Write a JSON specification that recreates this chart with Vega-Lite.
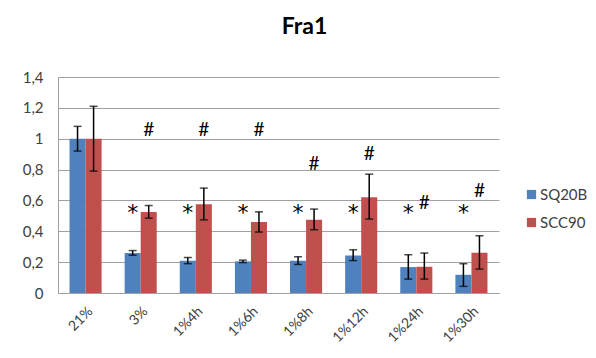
{
  "$schema": "https://vega.github.io/schema/vega-lite/v6.json",
  "width": 441,
  "height": 216,
  "autosize": {"type": "none"},
  "padding": {"left": 58, "top": 77, "right": 97, "bottom": 65},
  "background": "white",
  "config": {
    "locale": {"number": {"decimal": ",", "thousands": ".", "grouping": [3], "currency": ["", " €"]}},
    "view": {"stroke": null},
    "font": "Lato",
    "axisY": {"title": null, "format": ".1~f", "labelFontSize": 15, "labelColor": "#404040", "labelPadding": 15, "labelOverlap": false, "ticks": false, "grid": true, "gridColor": "#A0A0A0", "domainColor": "#A0A0A0", "labelFont": "Lato", "tickCount": 7}
  },
  "title": {"text": "Fra1", "fontSize": 23, "fontWeight": "bold", "font": "Lato", "color": "#000000", "dx": 26, "offset": 31, "anchor": "middle"},
  "datasets": {
    "bars": [
      {"cat": "21%", "series": "SQ20B", "value": 1.0, "lo": 0.92, "hi": 1.08},
      {"cat": "21%", "series": "SCC90", "value": 1.0, "lo": 0.79, "hi": 1.21},
      {"cat": "3%", "series": "SQ20B", "value": 0.259, "lo": 0.245, "hi": 0.275},
      {"cat": "3%", "series": "SCC90", "value": 0.525, "lo": 0.485, "hi": 0.567},
      {"cat": "1%4h", "series": "SQ20B", "value": 0.209, "lo": 0.19, "hi": 0.23},
      {"cat": "1%4h", "series": "SCC90", "value": 0.575, "lo": 0.474, "hi": 0.68},
      {"cat": "1%6h", "series": "SQ20B", "value": 0.205, "lo": 0.197, "hi": 0.213},
      {"cat": "1%6h", "series": "SCC90", "value": 0.46, "lo": 0.395, "hi": 0.526},
      {"cat": "1%8h", "series": "SQ20B", "value": 0.209, "lo": 0.185, "hi": 0.235},
      {"cat": "1%8h", "series": "SCC90", "value": 0.475, "lo": 0.41, "hi": 0.544},
      {"cat": "1%12h", "series": "SQ20B", "value": 0.243, "lo": 0.21, "hi": 0.28},
      {"cat": "1%12h", "series": "SCC90", "value": 0.62, "lo": 0.479, "hi": 0.77},
      {"cat": "1%24h", "series": "SQ20B", "value": 0.168, "lo": 0.09, "hi": 0.248},
      {"cat": "1%24h", "series": "SCC90", "value": 0.17, "lo": 0.09, "hi": 0.259},
      {"cat": "1%30h", "series": "SQ20B", "value": 0.118, "lo": 0.043, "hi": 0.19},
      {"cat": "1%30h", "series": "SCC90", "value": 0.261, "lo": 0.155, "hi": 0.371}
    ],
    "stars": [
      {"cat": "3%", "series": "SQ20B", "label": "*", "y": 0.47},
      {"cat": "1%4h", "series": "SQ20B", "label": "*", "y": 0.47},
      {"cat": "1%6h", "series": "SQ20B", "label": "*", "y": 0.47},
      {"cat": "1%8h", "series": "SQ20B", "label": "*", "y": 0.47},
      {"cat": "1%12h", "series": "SQ20B", "label": "*", "y": 0.47},
      {"cat": "1%24h", "series": "SQ20B", "label": "*", "y": 0.47},
      {"cat": "1%30h", "series": "SQ20B", "label": "*", "y": 0.47}
    ],
    "hashes": [
      {"cat": "3%", "series": "SCC90", "label": "#", "y": 1.018},
      {"cat": "1%4h", "series": "SCC90", "label": "#", "y": 1.018},
      {"cat": "1%6h", "series": "SCC90", "label": "#", "y": 1.018},
      {"cat": "1%8h", "series": "SCC90", "label": "#", "y": 0.798},
      {"cat": "1%12h", "series": "SCC90", "label": "#", "y": 0.863},
      {"cat": "1%24h", "series": "SCC90", "label": "#", "y": 0.544},
      {"cat": "1%30h", "series": "SCC90", "label": "#", "y": 0.619}
    ]
  },
  "encoding": {
    "x": {
      "field": "cat", "type": "nominal",
      "sort": ["21%", "3%", "1%4h", "1%6h", "1%8h", "1%12h", "1%24h", "1%30h"],
      "scale": {"paddingInner": 0.418, "paddingOuter": 0.209},
      "axis": {"title": null, "labelAngle": -45, "labelAlign": "right", "labelBaseline": "top", "labelFontSize": 14, "labelColor": "#404040", "labelPadding": 11, "ticks": false, "domainColor": "#A0A0A0", "labelFont": "Lato"}
    },
    "xOffset": {"field": "series", "type": "nominal", "sort": ["SQ20B", "SCC90"], "scale": {"paddingInner": 0, "paddingOuter": 0}},
    "y": {"field": "value", "type": "quantitative", "scale": {"domain": [0, 1.4], "nice": false}}
  },
  "layer": [
    {
      "data": {"name": "bars"},
      "mark": {"type": "bar"},
      "encoding": {
        "color": {
          "field": "series", "type": "nominal", "sort": ["SQ20B", "SCC90"],
          "scale": {"domain": ["SQ20B", "SCC90"], "range": ["#4F81BD", "#C0504D"]},
          "legend": {"title": null, "orient": "none", "legendX": 466, "legendY": 110, "symbolType": "square", "symbolSize": 85, "symbolStrokeWidth": 0, "labelFontSize": 15, "labelColor": "#404040", "rowPadding": 12, "labelFont": "Lato", "labelOffset": 1}
        }
      }
    },
    {
      "data": {"name": "bars"},
      "mark": {"type": "rule", "color": "#000000", "strokeWidth": 1.5},
      "encoding": {"y": {"field": "lo", "type": "quantitative"}, "y2": {"field": "hi"}}
    },
    {
      "data": {"name": "bars"},
      "mark": {"type": "tick", "color": "#000000", "thickness": 1.5, "size": 8, "orient": "horizontal"},
      "encoding": {"y": {"field": "lo", "type": "quantitative"}}
    },
    {
      "data": {"name": "bars"},
      "mark": {"type": "tick", "color": "#000000", "thickness": 1.5, "size": 8, "orient": "horizontal"},
      "encoding": {"y": {"field": "hi", "type": "quantitative"}}
    },
    {
      "data": {"name": "stars"},
      "mark": {"type": "text", "fontSize": 22, "baseline": "alphabetic", "align": "center", "color": "#000000", "font": "DejaVu Sans"},
      "encoding": {"y": {"field": "y", "type": "quantitative"}, "text": {"field": "label"}}
    },
    {
      "data": {"name": "hashes"},
      "mark": {"type": "text", "fontSize": 19, "baseline": "alphabetic", "align": "center", "color": "#000000", "font": "Lato"},
      "encoding": {"y": {"field": "y", "type": "quantitative"}, "text": {"field": "label"}}
    }
  ]
}
